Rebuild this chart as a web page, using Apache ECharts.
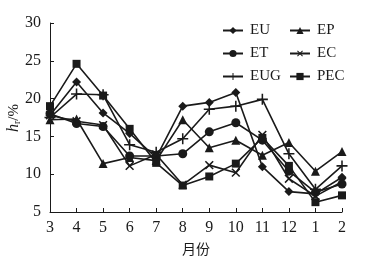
<!DOCTYPE html>
<html><head><meta charset="utf-8">
<script src="https://cdn.jsdelivr.net/npm/echarts@6/dist/echarts.min.js"></script>
<style>html,body{margin:0;padding:0;background:#fff}#c{width:365px;height:259px}</style>
</head><body><div id="c"></div>
<script>
const months = ['3','4','5','6','7','8','9','10','11','12','1','2'];
const EU  = [17.8, 22.2, 18.1, 15.4, 12.2, 19.0, 19.5, 20.8, 11.0, 7.7, 7.4, 9.6];
const ET  = [18.0, 16.7, 16.3, 12.4, 12.4, 12.7, 15.6, 16.8, 14.5, 10.4, 7.6, 8.7];
const EUG = [17.5, 20.6, 20.5, 13.9, 12.9, 14.7, 18.6, 19.0, 19.9, 12.7, 8.0, 11.1];
const EP  = [17.2, 17.3, 11.4, 12.2, 11.8, 17.2, 13.5, 14.5, 12.5, 14.2, 10.4, 13.0];
const EC  = [17.8, 17.0, 16.5, 11.1, 12.6, 8.6, 11.2, 10.2, 15.2, 9.4, 7.1, 9.0];
const PEC = [19.0, 24.6, 20.4, 16.0, 11.5, 8.5, 9.7, 11.4, 14.8, 11.1, 6.3, 7.2];

const col = '#1a1a1a';
const plus = 'path://M-0.7,-5 L0.7,-5 L0.7,-0.7 L5,-0.7 L5,0.7 L0.7,0.7 L0.7,5 L-0.7,5 L-0.7,0.7 L-5,0.7 L-5,-0.7 L-0.7,-0.7 Z';
const serif = '"Liberation Serif", "DejaVu Serif", serif';

function s(name, data, symbol, size, rot) {
  return {
    name, type: 'line', data, symbol, symbolSize: size, symbolRotate: rot || 0,
    lineStyle: {color: col, width: 1.6},
    itemStyle: {color: col, borderColor: col, borderWidth: 0},
    emphasis: {disabled: true}, animation: false
  };
}

const legendText = {fontFamily: serif, fontSize: 15, color: col, padding: [0,0,0,2]};
const chart = echarts.init(document.getElementById('c'));
chart.setOption({
  animation: false,
  grid: {left: 50, right: 23, top: 23, bottom: 47, containLabel: false, outerBoundsMode: 'none'},
  graphic: [{
    type: 'text', x: 14, y: 118, rotation: Math.PI / 2,
    style: {
      text: '{i|h}{s|r}{n|/%}', align: 'center', verticalAlign: 'middle',
      rich: {
        i: {fontFamily: serif, fontStyle: 'italic', fontSize: 16, fill: col},
        s: {fontFamily: serif, fontSize: 10, fill: col, padding: [7, 0, 0, 0]},
        n: {fontFamily: serif, fontSize: 15, fill: col}
      }
    }
  }],
  legend: [
    {data: ['EU','ET','EUG'], orient: 'vertical', left: 217, top: 18, itemWidth: 20, itemHeight: 9, itemGap: 8,
     textStyle: legendText},
    {data: ['EP','EC','PEC'], orient: 'vertical', left: 284, top: 18, itemWidth: 20, itemHeight: 9, itemGap: 8,
     textStyle: legendText}
  ],
  xAxis: {
    type: 'category', data: months, boundaryGap: false,
    axisLine: {lineStyle: {color: col, width: 1}},
    axisTick: {inside: true, length: 4, alignWithLabel: true, lineStyle: {color: col}},
    axisLabel: {fontFamily: serif, fontSize: 16, color: col, margin: 8},
    name: '月份', nameLocation: 'middle', nameGap: 30,
    nameTextStyle: {fontFamily: '"Noto Sans CJK SC"', fontSize: 14, color: col}
  },
  yAxis: {
    type: 'value', min: 5, max: 30, interval: 5,
    axisLine: {show: true, lineStyle: {color: col, width: 1}},
    axisTick: {show: true, inside: true, length: 4, lineStyle: {color: col}},
    axisLabel: {fontFamily: serif, fontSize: 16, color: col, margin: 9},
    splitLine: {show: false}
  },
  series: [
    s('EU', EU, 'diamond', 9),
    s('ET', ET, 'circle', 9),
    s('EUG', EUG, plus, 11),
    s('EP', EP, 'triangle', 9),
    s('EC', EC, plus, 11, 45),
    s('PEC', PEC, 'rect', 8)
  ]
});
</script></body></html>
